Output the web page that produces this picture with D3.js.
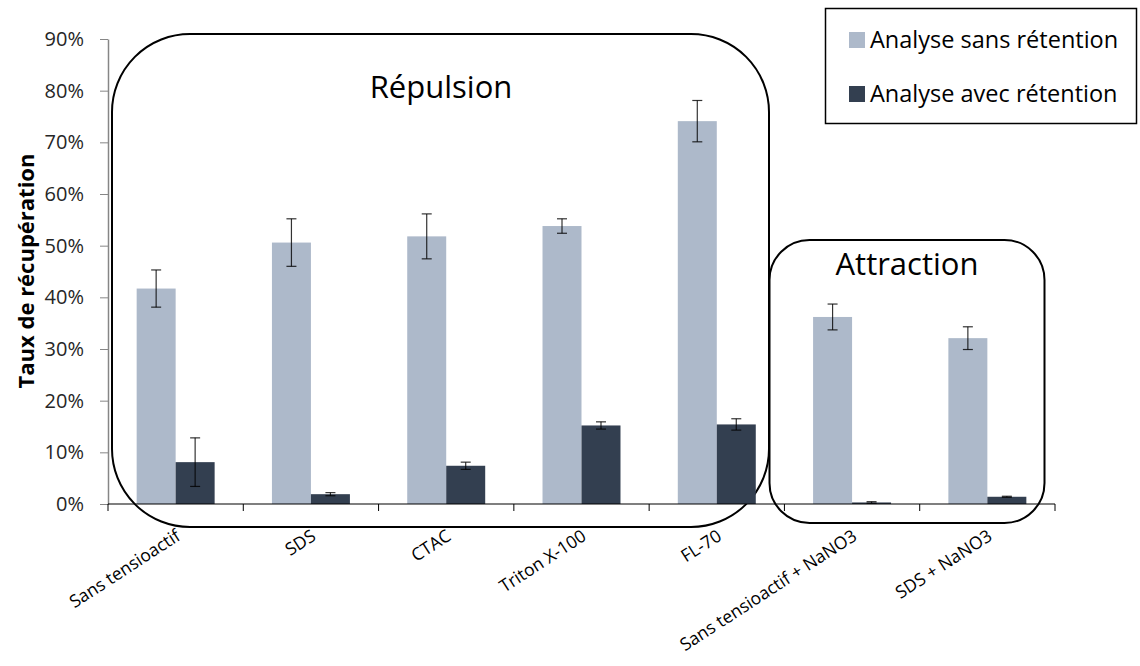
<!DOCTYPE html>
<html><head><meta charset="utf-8">
<script src="https://cdn.jsdelivr.net/npm/d3@7"></script>
<style>body{margin:0;background:#fff}svg{display:block}text{font-family:"Open Sans",sans-serif}</style>
</head><body><svg id="c" width="1140" height="666"></svg>
<script>
const categories = ["Sans tensioactif","SDS","CTAC","Triton X-100","FL-70","Sans tensioactif + NaNO3","SDS + NaNO3"];
const seriesNames = ["Analyse sans rétention","Analyse avec rétention"];
const sansRetention = [41.7, 50.6, 51.8, 53.8, 74.1, 36.2, 32.1];
const sansRetentionErr = [3.6, 4.6, 4.35, 1.4, 4.0, 2.5, 2.2];
const avecRetention = [8.1, 1.9, 7.4, 15.2, 15.4, 0.3, 1.4];
const avecRetentionErr = [4.7, 0.3, 0.7, 0.7, 1.1, 0.15, 0.1];
const yTicks = [0,10,20,30,40,50,60,70,80,90];
const colors = ["#ADB9CA","#333F50"];

const svg = d3.select("#c");
const y = d3.scaleLinear().domain([0,90]).range([504,39]);
const x0 = d3.scaleBand().domain(categories).range([108,1055]).padding(0);
const x1 = d3.scaleBand().domain(seriesNames).range([0,x0.bandwidth()]).paddingInner(0).paddingOuter(0.735);

// annotation boxes
svg.append("rect").attr("x",112).attr("y",34).attr("width",657).attr("height",493)
  .attr("rx",78).attr("ry",78).attr("fill","none").attr("stroke","#000").attr("stroke-width",2);
svg.append("rect").attr("x",769.5).attr("y",240).attr("width",275).attr("height",283)
  .attr("rx",40).attr("ry",40).attr("fill","none").attr("stroke","#000").attr("stroke-width",2);

// y axis
const yAxis = d3.axisLeft(y).tickValues(yTicks).tickFormat(d=>d+"%").tickSize(8).tickSizeOuter(0);
const gy = svg.append("g").attr("transform","translate(108,0)").call(yAxis);
gy.select(".domain").attr("stroke","#868686").attr("stroke-width",1.5);
gy.selectAll(".tick line").attr("stroke","#868686");
gy.selectAll(".tick text").attr("font-size",20).attr("fill","#262626").attr("x",-24).attr("font-family","Open Sans");

// bars
const data = categories.map((c,i)=>({c, vals:[
  {s:seriesNames[0], v:sansRetention[i], e:sansRetentionErr[i]},
  {s:seriesNames[1], v:avecRetention[i], e:avecRetentionErr[i]}]}));
const g = svg.append("g").selectAll("g").data(data).join("g")
  .attr("transform",d=>`translate(${x0(d.c)},0)`);
g.selectAll("rect").data(d=>d.vals).join("rect")
  .attr("x",d=>x1(d.s)).attr("width",x1.bandwidth())
  .attr("y",d=>y(d.v)).attr("height",d=>y(0)-y(d.v))
  .attr("fill",(d,i)=>colors[i]);
// error bars
const eb = g.selectAll("g.eb").data(d=>d.vals).join("g").attr("class","eb")
  .attr("stroke","#000").attr("stroke-width",1.2).attr("stroke-opacity",0.8);
eb.append("line").attr("x1",d=>x1(d.s)+x1.bandwidth()/2).attr("x2",d=>x1(d.s)+x1.bandwidth()/2)
  .attr("y1",d=>y(d.v+d.e)).attr("y2",d=>y(Math.max(0,d.v-d.e)));
eb.append("line").attr("x1",d=>x1(d.s)+x1.bandwidth()/2-5).attr("x2",d=>x1(d.s)+x1.bandwidth()/2+5)
  .attr("y1",d=>y(d.v+d.e)).attr("y2",d=>y(d.v+d.e));
eb.append("line").attr("x1",d=>x1(d.s)+x1.bandwidth()/2-5).attr("x2",d=>x1(d.s)+x1.bandwidth()/2+5)
  .attr("y1",d=>y(Math.max(0,d.v-d.e))).attr("y2",d=>y(Math.max(0,d.v-d.e)));

// x axis
const gx = svg.append("g").attr("transform","translate(0,504)");
gx.append("line").attr("x1",108).attr("x2",1055).attr("y1",0).attr("y2",0).attr("stroke","#000").attr("stroke-width",1.2);
const bounds = categories.map(c=>x0(c)).concat([x0(categories[categories.length-1])+x0.bandwidth()]);
gx.selectAll("line.t").data(bounds).join("line").attr("class","t")
  .attr("x1",d=>d).attr("x2",d=>d).attr("y1",0).attr("y2",7).attr("stroke","#000");
gx.selectAll("text").data(categories).join("text")
  .attr("transform",d=>`translate(${x0(d)+x0.bandwidth()/2+6},35) rotate(-33)`)
  .attr("text-anchor","end").attr("font-size",17.5).attr("fill","#000").text(d=>d);

// y title
svg.append("text").attr("transform","translate(34,271) rotate(-90)").attr("text-anchor","middle")
  .attr("font-size",22).attr("font-weight","bold").attr("fill","#000").text("Taux de récupération");

// box labels
svg.append("text").attr("x",441).attr("y",98).attr("text-anchor","middle").attr("font-size",31).attr("fill","#000").text("Répulsion");
svg.append("text").attr("x",907).attr("y",275).attr("text-anchor","middle").attr("font-size",31).attr("fill","#000").text("Attraction");

// legend
const lg = svg.append("g");
lg.append("rect").attr("x",825.5).attr("y",8.5).attr("width",311).attr("height",115).attr("fill","#fff").attr("stroke","#000").attr("stroke-width",1.5);
seriesNames.forEach((s,i)=>{
  const cy = 40 + i*54;
  lg.append("rect").attr("x",849).attr("y",cy-8).attr("width",16).attr("height",16).attr("fill",colors[i]);
  lg.append("text").attr("x",870).attr("y",cy+8).attr("font-size",23.5).attr("fill","#000").text(s);
});
</script></body></html>
